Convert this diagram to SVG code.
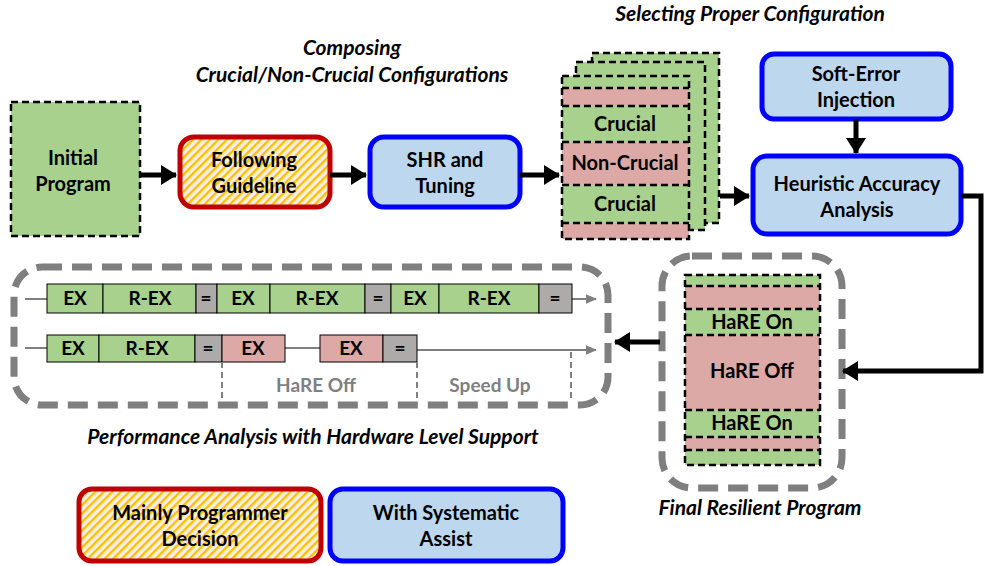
<svg xmlns="http://www.w3.org/2000/svg" width="984" height="566" viewBox="0 0 984 566">
<defs>
<pattern id="hatch" width="6" height="6" patternUnits="userSpaceOnUse" patternTransform="rotate(45)">
<rect width="6" height="6" fill="#f4efe6"/>
<rect x="0" y="0" width="2.4" height="6" fill="#ffc000"/>
</pattern>
<marker id="ah" markerWidth="4" markerHeight="4" refX="3" refY="2" orient="auto" markerUnits="strokeWidth">
<path d="M0,0 L3.2,2 L0,4 z" fill="#000"/>
</marker>
<marker id="ahg" markerWidth="6" markerHeight="6" refX="5" refY="3" orient="auto" markerUnits="strokeWidth">
<path d="M0,0.6 L5.5,3 L0,5.4 z" fill="#7f7f7f"/>
</marker>
<style>
text{font-family:Lato,"Open Sans","Liberation Sans",sans-serif;font-weight:bold;text-anchor:middle;fill:#000}
.t{font-size:20px}
.it{font-size:21px;font-style:italic}
.s{font-size:19px}
.g{fill:#7f7f7f;font-size:19px}
.blue{fill:#bdd7ee;stroke:#0000ff;stroke-width:5}
.red{fill:url(#hatch);stroke:#c00000;stroke-width:5}
.dash{stroke:#000;stroke-width:2.5;stroke-dasharray:7 4}
.grn{fill:#a9d18e}
.pnk{fill:#dca9a6}
.gry{fill:#aeaaaa}
.cell{stroke:#000;stroke-width:1}
.gbox{fill:none;stroke:#7f7f7f;stroke-width:7;stroke-dasharray:20 10}
.arr{stroke:#000;stroke-width:5;fill:none;marker-end:url(#ah)}
.tl{stroke:#7f7f7f;stroke-width:2;fill:none}
.vd{stroke:#7f7f7f;stroke-width:2;stroke-dasharray:6 4;fill:none}
</style>
</defs>
<rect width="984" height="566" fill="#fff"/>

<!-- labels -->
<text class="it" x="352" y="55">Composing</text>
<text class="it" x="352" y="82">Crucial/Non-Crucial Configurations</text>
<text class="it" x="750" y="21">Selecting Proper Configuration</text>
<text class="it" x="313" y="444">Performance Analysis with Hardware Level Support</text>
<text class="it" x="760" y="515">Final Resilient Program</text>

<g id="initial">
<rect x="11" y="102" width="129" height="134" class="grn dash"/>
<text class="t" x="73" y="165">Initial</text>
<text class="t" x="73" y="191">Program</text>
</g>

<g id="guideline">
<rect x="180" y="137" width="150" height="70" rx="14" class="red"/>
<text class="t" x="254" y="167">Following</text>
<text class="t" x="254" y="193">Guideline</text>
</g>

<g id="shr">
<rect x="370" y="137" width="150" height="70" rx="14" class="blue"/>
<text class="t" x="445" y="167">SHR and</text>
<text class="t" x="445" y="193">Tuning</text>
</g>

<g id="configs">
<rect x="592" y="53" width="127" height="170" class="grn dash"/>
<rect x="576" y="62" width="129" height="168" class="grn dash"/>
<rect x="562" y="76" width="127" height="163" fill="#dca9a6"/>
<rect x="562" y="76" width="127" height="12" class="grn"/>
<rect x="562" y="106" width="127" height="36" class="grn"/>
<rect x="562" y="185" width="127" height="38" class="grn"/>
<g class="dash" fill="none">
<rect x="562" y="76" width="127" height="163"/>
<line x1="562" y1="88" x2="689" y2="88"/>
<line x1="562" y1="106" x2="689" y2="106"/>
<line x1="562" y1="142" x2="689" y2="142"/>
<line x1="562" y1="185" x2="689" y2="185"/>
<line x1="562" y1="223" x2="689" y2="223"/>
</g>
<text class="t" x="625" y="131">Crucial</text>
<text class="t" x="625" y="170">Non-Crucial</text>
<text class="t" x="625" y="211">Crucial</text>
</g>

<g id="softerror">
<rect x="762" y="54" width="189" height="65" rx="12" class="blue"/>
<text class="t" x="856" y="81">Soft-Error</text>
<text class="t" x="856" y="107">Injection</text>
</g>

<g id="heuristic">
<rect x="753" y="156" width="208" height="78" rx="14" class="blue"/>
<text class="t" x="857" y="191">Heuristic Accuracy</text>
<text class="t" x="857" y="217">Analysis</text>
</g>

<g id="final">
<rect x="662" y="256" width="180" height="232" rx="30" class="gbox"/>
<rect x="685" y="275" width="135" height="190" fill="#dca9a6"/>
<rect x="685" y="275" width="135" height="11" class="grn"/>
<rect x="685" y="309" width="135" height="26" class="grn"/>
<rect x="685" y="410" width="135" height="27" class="grn"/>
<rect x="685" y="450" width="135" height="15" class="grn"/>
<g class="dash" fill="none">
<rect x="685" y="275" width="135" height="190"/>
<line x1="685" y1="286" x2="820" y2="286"/>
<line x1="685" y1="309" x2="820" y2="309"/>
<line x1="685" y1="335" x2="820" y2="335"/>
<line x1="685" y1="410" x2="820" y2="410"/>
<line x1="685" y1="437" x2="820" y2="437"/>
<line x1="685" y1="450" x2="820" y2="450"/>
</g>
<text class="t" x="752" y="329">HaRE On</text>
<text class="t" x="752" y="378">HaRE Off</text>
<text class="t" x="752" y="430">HaRE On</text>
</g>

<g id="performance">
<rect x="14" y="267" width="594" height="138" rx="28" class="gbox"/>
<line class="tl" x1="25" y1="299" x2="47" y2="299"/>
<line class="tl" x1="572" y1="299" x2="596" y2="299" marker-end="url(#ahg)"/>
<g class="cell">
<rect x="47" y="284" width="56" height="29" class="grn"/>
<rect x="103" y="284" width="93" height="29" class="grn"/>
<rect x="196" y="284" width="21" height="29" class="gry"/>
<rect x="217" y="284" width="53" height="29" class="grn"/>
<rect x="270" y="284" width="95" height="29" class="grn"/>
<rect x="365" y="284" width="26" height="29" class="gry"/>
<rect x="391" y="284" width="48" height="29" class="grn"/>
<rect x="439" y="284" width="100" height="29" class="grn"/>
<rect x="539" y="284" width="33" height="29" class="gry"/>
</g>
<text class="s" x="75" y="305">EX</text>
<text class="s" x="150" y="305">R-EX</text>
<text class="s" x="206" y="305">=</text>
<text class="s" x="243" y="305">EX</text>
<text class="s" x="317" y="305">R-EX</text>
<text class="s" x="378" y="305">=</text>
<text class="s" x="415" y="305">EX</text>
<text class="s" x="489" y="305">R-EX</text>
<text class="s" x="555" y="305">=</text>

<line class="tl" x1="25" y1="348" x2="47" y2="348"/>
<line class="tl" x1="285" y1="348" x2="320" y2="348"/>
<line class="tl" x1="417" y1="350" x2="596" y2="350" marker-end="url(#ahg)"/>
<g class="cell">
<rect x="47" y="335" width="52" height="27" class="grn"/>
<rect x="99" y="335" width="96" height="27" class="grn"/>
<rect x="195" y="335" width="27" height="27" class="gry"/>
<rect x="222" y="335" width="63" height="27" class="pnk"/>
<rect x="320" y="335" width="63" height="27" class="pnk"/>
<rect x="383" y="335" width="34" height="27" class="gry"/>
</g>
<text class="s" x="73" y="355">EX</text>
<text class="s" x="147" y="355">R-EX</text>
<text class="s" x="208" y="355">=</text>
<text class="s" x="253" y="355">EX</text>
<text class="s" x="351" y="355">EX</text>
<text class="s" x="400" y="355">=</text>

<line class="vd" x1="222" y1="362" x2="222" y2="398"/>
<line class="vd" x1="417" y1="362" x2="417" y2="398"/>
<line class="vd" x1="571" y1="352" x2="571" y2="398"/>
<text class="g" x="316" y="392">HaRE Off</text>
<text class="g" x="490" y="392">Speed Up</text>
</g>

<g id="legend-programmer">
<rect x="79" y="489" width="242" height="72" rx="13" class="red"/>
<text class="t" x="200" y="520">Mainly Programmer</text>
<text class="t" x="200" y="546">Decision</text>
</g>
<g id="legend-assist">
<rect x="330" y="489" width="233" height="72" rx="13" class="blue"/>
<text class="t" x="446" y="520">With Systematic</text>
<text class="t" x="446" y="546">Assist</text>
</g>

<g id="connectors">
<line class="arr" x1="140" y1="175" x2="176" y2="175"/>
<line class="arr" x1="330" y1="175" x2="366" y2="175"/>
<line class="arr" x1="520" y1="175" x2="559" y2="175"/>
<line class="arr" x1="720" y1="196" x2="749" y2="196"/>
<line class="arr" x1="856" y1="119" x2="856" y2="153"/>
<polyline class="arr" points="961,196 981,196 981,371 843,371"/>
<line class="arr" x1="660" y1="342" x2="615" y2="342"/>
</g>
</svg>
